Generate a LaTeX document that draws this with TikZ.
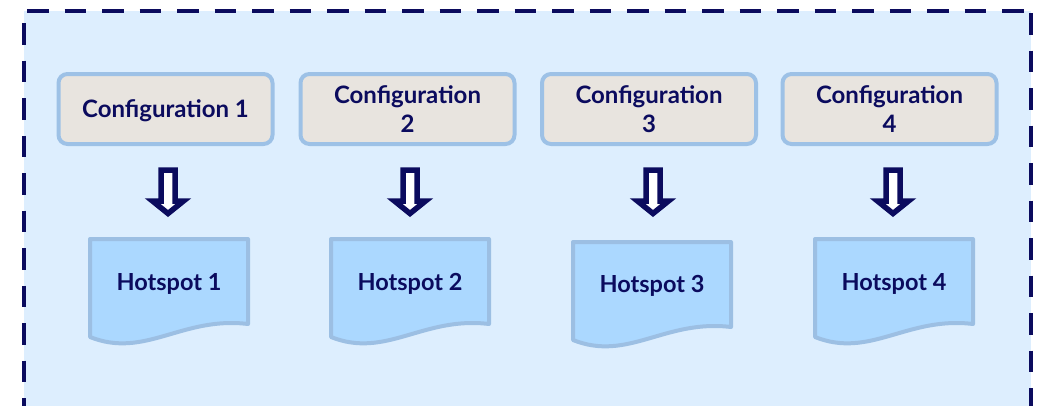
\documentclass[tikz,border=0pt]{standalone}
\usepackage{fontspec}
\setmainfont{Lato}
\usetikzlibrary{calc}
\definecolor{clbg}{HTML}{DDEEFE}
\definecolor{navy}{HTML}{0B0B5E}
\definecolor{cfgfill}{HTML}{E8E4DF}
\definecolor{cfgline}{HTML}{9DC1E6}
\definecolor{hsfill}{HTML}{ABD8FF}
\definecolor{hsline}{HTML}{9CBFE3}
\tikzset{
  clusterline/.style={draw=navy, line width=4pt, dash pattern=on 21.5pt off 16pt},
  cfgbox/.style={draw=cfgline, fill=cfgfill, line width=4pt, rounded corners=9pt,
    minimum width=214pt, minimum height=70pt, align=center, text=navy, text depth=0pt,
    font=\fontsize{24}{29}\selectfont\bfseries},
  hstext/.style={text=navy, inner sep=0pt, anchor=base, font=\fontsize{23.5}{26}\selectfont\bfseries},
  hsshape/.style={draw=hsline, fill=hsfill, line width=4pt, line join=round},
  fatarrow/.style={draw=navy, fill=white, line width=5.5pt, line join=miter},
}
\begin{document}
\begin{tikzpicture}[x=1pt,y=-1pt]
\useasboundingbox (0,0) rectangle (1041,405);
\begin{scope}
\clip (0,0) rectangle (1041,405);
\fill[clbg] (24,11) rectangle (1031,440);
\draw[clusterline, dash phase=34.5pt] (24,11) -- (1031,11);
\draw[clusterline, dash phase=25.5pt] (24,11) -- (24,440);
\draw[clusterline, dash phase=35.5pt] (1031,11) -- (1031,440);
\end{scope}
% configuration boxes
\node[cfgbox] (c1) at (165.5,109) {Configuration 1};
\node[cfgbox] (c2) at (407.5,109) {Configuration\\2};
\node[cfgbox] (c3) at (649,109) {Configuration\\3};
\node[cfgbox] (c4) at (889.5,109) {Configuration\\4};
% hotspot shapes
\foreach \cx/\t/\i in {169/239/1, 410/239/2, 652/242/3, 894/239/4}{
  \draw[hsshape] (\cx-79,\t) -- (\cx+79,\t) -- (\cx+79,\t+85)
    .. controls (\cx+13,\t+77) and (\cx-24,\t+120) .. (\cx-79,\t+98) -- cycle;
}
\node[hstext] (h1) at (169,290) {Hotspot 1};
\node[hstext] (h2) at (410,290) {Hotspot 2};
\node[hstext] (h3) at (652,292) {Hotspot 3};
\node[hstext] (h4) at (894,290) {Hotspot 4};
% hollow arrows from configuration to hotspot
\foreach \i/\ax in {1/168, 2/410, 3/653, 4/893}{
  \coordinate (t\i) at (\ax,170);
  \draw[fatarrow] (t\i) ++(-7,0) -- ++(14,0) -- ++(0,31) -- ++(8.5,0)
    -- ++(-15.5,12.5) -- ++(-15.5,-12.5) -- ++(8.5,0) -- cycle;
}
\end{tikzpicture}
\end{document}
